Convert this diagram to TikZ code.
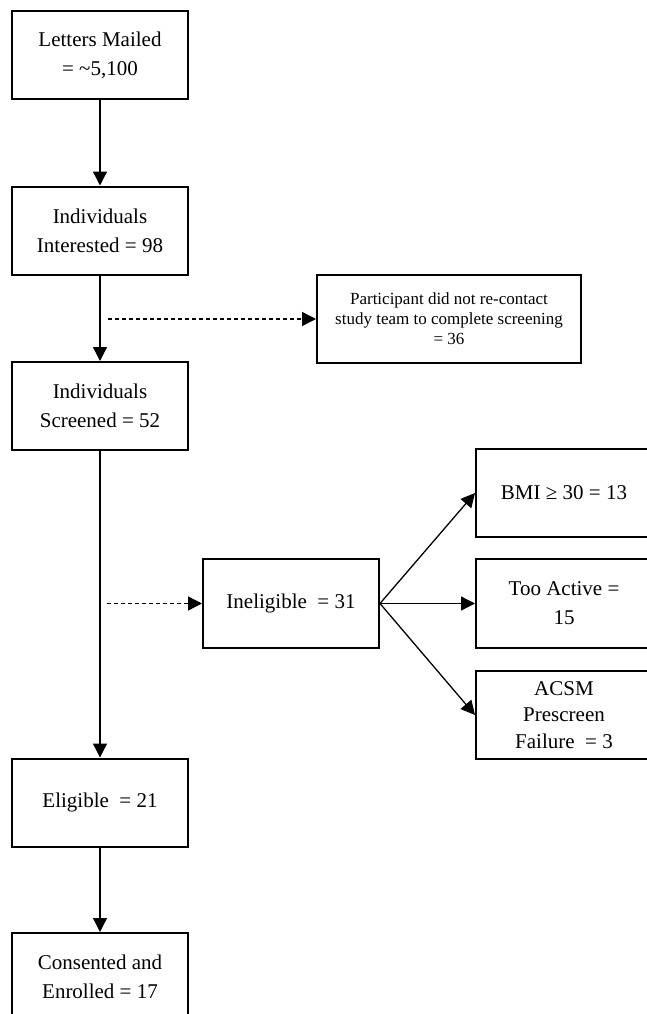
\documentclass[tikz,border=0pt]{standalone}
\usepackage{fontspec}
\setmainfont{Liberation Serif}
\usetikzlibrary{arrows.meta}
\tikzset{
  flowbox/.style={draw, line width=2pt, minimum width=176pt, minimum height=88pt,
    inner sep=0pt, align=center, font=\fontsize{21}{29}\selectfont},
  notebox/.style={flowbox, minimum width=264pt, font=\fontsize{17}{20}\selectfont},
  flowarrow/.style={line width=1.3pt, -{Triangle[length=14pt,width=14pt]}},
  dropoutarrow/.style={flowarrow, dash pattern=on 4pt off 3pt},
}
\begin{document}
\begin{tikzpicture}[x=1pt,y=-1pt]
                    \useasboundingbox (0,0) rectangle (647,1014);

                    % Main column of boxes
                    \node [flowbox] (mailed) at (100,55) {Letters Mailed\\= \textasciitilde5,100};%
                    \node [flowbox] (interested) at (100,230.5) {Individuals\\Interested = 98};%
                    \node [flowbox] (screened) at (100,406) {Individuals\\Screened = 52};%
                    \node [flowbox] (eligible) at (100,802.5) {Eligible~ = 21};%
                    \node [flowbox] (enrolled) at (100,977) {Consented and\\Enrolled = 17};%

                    % Box for participants lost before screening
                    \node [notebox] (norecontact) at (449,319) {Participant did not re-contact\\study team to complete screening\\= 36};%

                    % Ineligible box and its reasons
                    \node [flowbox, minimum height=89pt] (ineligible) at (291,603.5) {Ineligible~ = 31};%
                    \node [flowbox] (bmi) at (564,493) {BMI ≥ 30 = 13};%
                    \node [flowbox, minimum height=89pt] (active) at (564,603.5) {Too Active =\\15};%
                    \node [flowbox, font=\fontsize{21}{26.5}\selectfont] (acsm) at (564,715) {ACSM\\Prescreen\\Failure~ = 3};%

                    % Start points of the dashed arrows
                    \coordinate (dropA) at (108,319);
                    \coordinate (dropB) at (107,603.5);

                    % Drawing arrows of the main column
                    \draw [flowarrow] (mailed) -- (interested);%
                    \draw [flowarrow] (interested) -- (screened);%
                    \draw [flowarrow] (screened) -- (eligible);%
                    \draw [flowarrow] (eligible) -- (enrolled);%

                    % Drawing dashed arrows
                    \draw [dropoutarrow] (dropA) -- (norecontact);%
                    \draw [dropoutarrow] (dropB) -- (ineligible);%

                    % Drawing arrows to the reasons
                    \draw [flowarrow] (ineligible.east) -- (bmi.west);%
                    \draw [flowarrow] (ineligible.east) -- (active.west);%
                    \draw [flowarrow] (ineligible.east) -- (acsm.west);%
\end{tikzpicture}
\end{document}
